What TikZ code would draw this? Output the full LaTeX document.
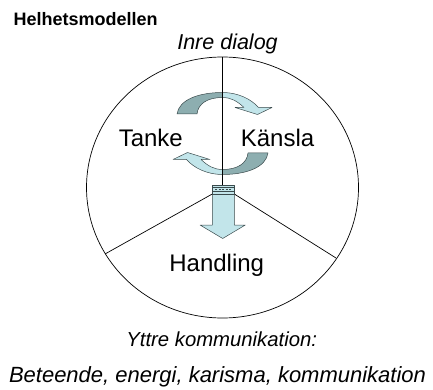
\documentclass[tikz,border=0pt]{standalone}
\usepackage{fontspec}
\setmainfont{Liberation Sans}
\definecolor{arrdark}{HTML}{8DAEB0}
\definecolor{arrlight}{HTML}{C2E5EA}
\definecolor{arrline}{HTML}{3A4A4C}
\tikzset{
  txt/.style={inner sep=0pt,anchor=base},
  big/.style={font=\fontsize{24}{28}\selectfont},
  ital/.style={font=\fontsize{21.5}{25}\selectfont\itshape},
  darkpart/.style={fill=arrdark,draw=arrline,line width=0.5pt,line join=round},
  lightpart/.style={fill=arrlight,draw=arrline,line width=0.5pt,line join=round},
  thinline/.style={line width=0.7pt,draw=black}
}
\newcommand{\curvedarrow}{%
  \path[darkpart] (177,114) .. controls (179,100) and (198,92.5) .. (222.5,92.5)
     -- (222.5,97.5) .. controls (207,97.5) and (198,104) .. (197,114) -- cycle;
  \path[lightpart] (222.5,92.5) .. controls (238,92.5) and (251,99) .. (258.5,107.5)
     -- (272,107.5) -- (257.5,114.5) -- (235,107.5) -- (244,107.5)
     .. controls (237,101) and (231,97.5) .. (222.5,97.5) -- cycle;
}
\begin{document}
\begin{tikzpicture}[x=1pt,y=-1pt]
\useasboundingbox (0,0) rectangle (433,390);
% circle and dividers
\draw[thinline] (222.5,187.5) ellipse [x radius=136pt, y radius=130.5pt];
\coordinate (bl) at (212.3,194);
\coordinate (br) at (234.3,194);
\coordinate (el) at (105,254);
\coordinate (er) at (336,258);
\draw[thinline] (bl) -- (el);
\draw[thinline] (br) -- (er);
% curved arrows
\begin{scope}
  \curvedarrow
\end{scope}
\begin{scope}[shift={(222.5,133.5)},rotate=180,shift={(-222.5,-133.5)}]
  \curvedarrow
\end{scope}
% vertical line
\coordinate (vt) at (222.5,57);
\coordinate (vb) at (222.5,185);
\draw[line width=0.7pt] (vt) -- (vb);
% down arrow
\path[lightpart] (212.3,194) -- (212.3,225) -- (200,225) -- (222.7,238.5)
   -- (245.3,225) -- (234.3,225) -- (234.3,194) -- cycle;
\path[lightpart] (212,185) rectangle (234.5,194);
\draw[arrline,line width=0.5pt] (212,187.2) -- (234.5,187.2);
\draw[arrline,line width=0.8pt,dash pattern=on 2pt off 1.5pt] (215,189.3) -- (231.5,189.3);
\draw[arrline,line width=0.5pt] (212,191.5) -- (234.5,191.5);
% texts
\node[txt,anchor=base west,font=\fontsize{18}{21}\selectfont\bfseries] (title) at (13.5,25.7) {Helhetsmodellen};
\node[txt,ital] (inre) at (227.5,50) {Inre dialog};
\node[txt,big] (tanke) at (150.8,146.7) {Tanke};
\node[txt,big] (kansla) at (277.5,146.7) {Känsla};
\node[txt,big] (handling) at (216.7,271.7) {Handling};
\node[txt,ital,font=\fontsize{20.3}{24}\selectfont\itshape] (yttre) at (221.7,346.7) {Yttre kommunikation:};
\node[txt,ital,font=\fontsize{22}{26}\selectfont\itshape] (bet) at (217.5,382) {Beteende, energi, karisma, kommunikation};
\end{tikzpicture}
\end{document}
